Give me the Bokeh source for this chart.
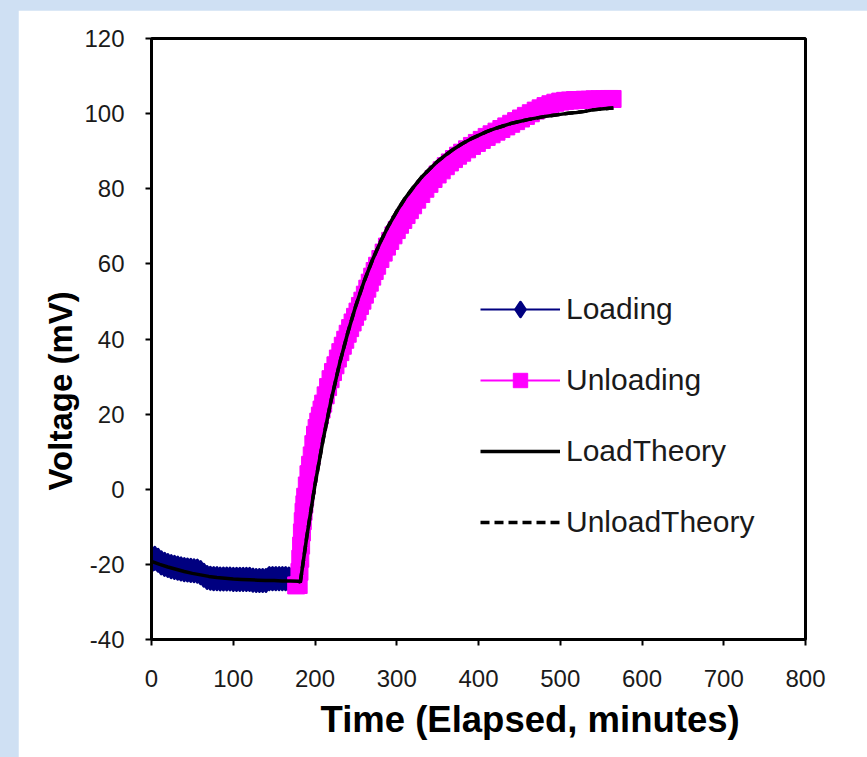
from bokeh.plotting import figure
from bokeh.models import (Range1d, FixedTicker, Legend, LegendItem, Title, Column)
from bokeh.embed import file_html
from bokeh.resources import INLINE

# ---------------- data ----------------
load_t = [0, 4, 8, 12, 16, 20, 24, 28, 32, 36, 40, 44, 48, 52, 56, 60, 64, 68, 72, 76,
          80, 84, 88, 92, 96, 100, 104, 108, 112, 116, 120, 124, 128, 132, 136, 140,
          144, 148, 152, 156, 160, 164, 168, 172, 176]
load_v = [-19.0, -18.4, -18.9, -19.6, -20.0, -20.3, -20.6, -20.8, -21.0, -21.2, -21.4,
          -21.5, -21.6, -21.7, -21.8, -22.2, -22.9, -23.5, -23.7, -23.8, -23.8, -23.9,
          -23.9, -23.9, -23.9, -24.0, -24.0, -24.0, -24.0, -24.0, -24.0, -24.2, -24.3,
          -24.3, -24.3, -24.3, -23.8, -23.8, -23.8, -23.8, -23.8, -23.8, -23.9, -23.9, -24.0]

unload_t = [177, 180, 181, 182, 183, 184, 185, 186, 187, 188,
            190, 192, 194, 196, 198, 200, 202, 204, 206, 208, 210,
            213, 216, 219, 222, 225, 228, 231, 234, 237, 240, 243, 246, 249, 252, 255, 258,
            261, 264, 267, 270, 273, 276,
            280, 284, 288, 292, 296, 300, 304, 308, 312, 316,
            320, 325, 330, 335, 340, 345, 350, 355, 360, 365, 370, 375, 380,
            386, 392, 398, 404, 410, 416, 422, 428, 434, 440, 446, 452, 458, 464, 470,
            476, 482, 488, 494, 500, 506, 512, 518, 524, 530, 536, 542, 548, 554, 560, 564]
unload_v = [-25.6, -25.5, -22, -18.5, -15, -11.5, -8.5, -6, -4, -2,
            1, 4, 6.5, 9, 12, 14.5, 16.3, 18, 19.6, 21.2, 22.8,
            25, 27.2, 29.3, 31.2, 33, 34.8, 36.5, 38.2, 39.8, 41.4, 42.9, 44.4, 45.9, 47.3,
            48.8, 50.2, 51.8, 53.4, 55, 56.6, 58.1, 59.5,
            61.3, 63, 64.6, 66.1, 67.6, 69, 70.4, 71.7, 73, 74.3,
            75.6, 77.1, 78.6, 80, 81.3, 82.6, 83.8, 84.9, 86, 87, 87.9, 88.8, 89.6,
            90.5, 91.4, 92.2, 93, 93.8, 94.5, 95.2, 95.9, 96.6, 97.3, 98, 98.7, 99.4,
            100.1, 100.8, 101.4, 102, 102.5, 102.9, 103.2, 103.4, 103.5, 103.6, 103.6,
            103.7, 103.7, 103.8, 103.8, 103.8, 103.9, 103.9]

load_theory_t = [0, 10, 20, 30, 40, 50, 60, 70, 80, 90, 100, 110, 120, 130, 140, 150,
                 160, 170, 180, 182]
load_theory_v = [-19.2, -20.0, -20.7, -21.3, -21.9, -22.4, -22.8, -23.2, -23.5, -23.7,
                 -23.9, -24.0, -24.1, -24.2, -24.3, -24.3, -24.4, -24.4, -24.5, -24.8]

unload_theory_t = [182, 190, 200, 210, 220, 230, 240, 250, 260, 270, 280, 290, 300, 310,
                   320, 330, 340, 350, 360, 370, 380, 390, 400, 410, 420, 430, 440, 450,
                   460, 470, 480, 490, 500, 510, 520, 530, 540, 550, 560, 565]
unload_theory_v = [-24.8, -12.6, 1.2, 13.3, 24.0, 33.4, 41.6, 48.9, 55.3, 60.9, 65.8,
                   70.2, 74.0, 77.4, 80.3, 83.0, 85.2, 87.3, 89.0, 90.6, 92.0, 93.2, 94.2,
                   95.2, 96.0, 96.7, 97.4, 97.9, 98.4, 98.8, 99.2, 99.5, 99.8, 100.1,
                   100.3, 100.6, 101.0, 101.2, 101.4, 101.5]

x_ticks = [0, 100, 200, 300, 400, 500, 600, 700, 800]
y_ticks = [-40, -20, 0, 20, 40, 60, 80, 100, 120]
y_tick_labels = ["-40", "-20", "0", "20", "40", "60", "80", "100", "120"]
series_names = ["Loading", "Unloading", "LoadTheory", "UnloadTheory"]
x_title = "Time (Elapsed, minutes)"
y_title = "Voltage (mV)"

FONT = "Liberation Sans"

p = figure(width=849, height=747, output_backend="svg", toolbar_location=None,
           x_range=Range1d(0, 800), y_range=Range1d(-40, 120),
           min_border_left=133, min_border_right=62, min_border_top=28,
           min_border_bottom=118)
p.margin = (10, 0, 0, 18)
p.background_fill_color = "white"
p.border_fill_color = "white"
p.outline_line_color = "black"
p.outline_line_width = 3
p.xgrid.visible = False
p.ygrid.visible = False

for ax in (p.xaxis[0], p.yaxis[0]):
    ax.axis_line_width = 3
    ax.axis_line_color = "black"
    ax.major_tick_line_width = 2
    ax.major_tick_in = 0
    ax.major_tick_out = 6
    ax.minor_tick_line_color = None
    ax.major_label_text_font = FONT
    ax.major_label_text_font_size = "24px"
    ax.major_label_text_color = "#1a1a1a"
p.xaxis[0].ticker = FixedTicker(ticks=x_ticks)
p.yaxis[0].ticker = FixedTicker(ticks=y_ticks)
p.yaxis[0].major_label_overrides = {t: s for t, s in zip(y_ticks, y_tick_labels)}
p.xaxis[0].major_label_standoff = 24
p.yaxis[0].major_label_standoff = 21

# data series
l_line = p.line(load_t, load_v, line_color="#000080", line_width=2)
l_pts = p.scatter(load_t, load_v, marker="diamond", size=22, fill_color="#000080",
                  line_color="#000080", line_width=3, line_join="round")
u_line = p.line(unload_t, unload_v, line_color="#ff00ff", line_width=2)
u_pts = p.scatter(unload_t, unload_v, marker="square", size=17, fill_color="#ff00ff",
                  line_color="#ff00ff")

# theory curves
ut_line = p.line(unload_theory_t, unload_theory_v, line_color="black", line_width=3.5,
                 line_dash="9 5")
lt_line = p.line(load_theory_t + unload_theory_t[1:], load_theory_v + unload_theory_v[1:],
                 line_color="black", line_width=3.5)

legend = Legend(items=[
    LegendItem(label=series_names[0], renderers=[l_line, l_pts]),
    LegendItem(label=series_names[1], renderers=[u_line, u_pts]),
    LegendItem(label=series_names[2], renderers=[lt_line]),
    LegendItem(label=series_names[3], renderers=[ut_line]),
], location=(329, 99))
legend.glyph_width = 80
legend.glyph_height = 36
legend.label_height = 36
legend.spacing = 35
legend.padding = 0
legend.margin = 0
legend.label_standoff = 6
legend.label_text_font = FONT
legend.label_text_font_size = "30px"
legend.label_text_color = "#1a1a1a"
legend.background_fill_alpha = 0
legend.border_line_alpha = 0
p.add_layout(legend)

p.add_layout(Title(text=x_title, align="left", offset=169, standoff=15, text_font=FONT,
                   text_font_size="36.5px", text_font_style="bold", text_color="black"),
             "below")
p.add_layout(Title(text=y_title, align="left", offset=149, standoff=6, text_font=FONT,
                   text_font_size="33px", text_font_style="bold", text_color="black"),
             "left")

layout = Column(children=[p], width=867, height=757,
                styles={"background-color": "#cfe0f3"})

open("out.html", "w").write(file_html(layout, INLINE))
